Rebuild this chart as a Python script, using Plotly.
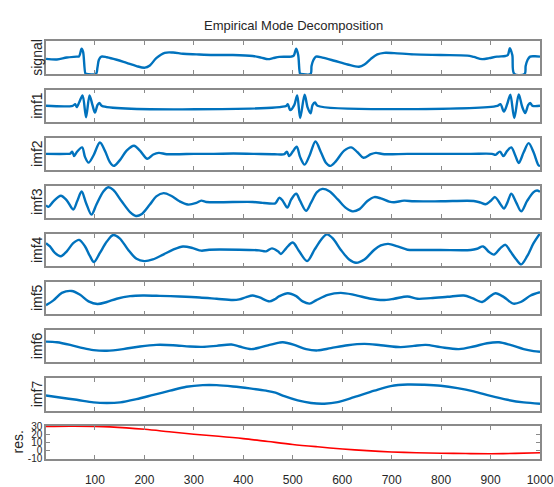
import plotly.graph_objects as go

# ---- decomposition data (sample index, amplitude) ----
signal_x = [1, 23, 43, 63, 68, 73, 76, 81, 83, 102, 105, 108, 113, 124, 144, 164, 184, 201, 211, 224,
            241, 258, 278, 305, 339, 379, 419, 436, 450, 460, 473, 497, 502, 507, 511, 515, 517, 536,
            538, 542, 547, 560, 584, 611, 634, 645, 658, 671, 685, 705, 745, 799, 853, 866, 883, 897,
            913, 930, 935, 939, 944, 948, 969, 971, 975, 980, 990, 1000]
signal_y = [48, 46, 52, 55, 56, 80, 70, 0, 0, 0, 20, 45, 55, 53, 45, 35, 25, 20, 27, 50,
            67, 68, 64, 62, 60, 60, 57, 52, 47, 50, 54, 55, 58, 80, 60, 0, 0, 0,
            25, 45, 55, 52, 42, 30, 23, 30, 48, 62, 67, 66, 62, 60, 58, 54, 47, 50,
            55, 57, 60, 82, 60, 0, 0, 25, 45, 55, 56, 55]

imf1_x = [1, 55, 60, 63, 68, 75, 82, 89, 95, 100, 105, 109, 114, 487, 490, 495, 503, 509, 515, 524,
          530, 536, 540, 545, 550, 914, 920, 927, 934, 940, 948, 957, 964, 970, 976, 980, 985, 1000]
imf1_y = [0, 0, 5, -4, 10, 32, -35, 32, 2, -21, 2, 9, 0, 0, 5, -13, 2, 32, -38, 34,
          -5, -23, 2, 10, 0, 0, 5, -18, 7, 34, -38, 35, -3, -22, 2, 9, 0, 0]

imf2_x = [1, 43, 50, 54, 58, 63, 74, 80, 87, 97, 110, 120, 130, 138, 150, 164, 179, 191, 206, 218,
          229, 245, 271, 300, 340, 380, 420, 463, 476, 483, 488, 493, 500, 508, 515, 524, 534, 546,
          557, 567, 576, 587, 604, 618, 631, 643, 658, 668, 685, 732, 800, 860, 903, 910, 919, 926,
          934, 942, 950, 957, 967, 977, 987, 997, 1000]
imf2_y = [0, 0, 1, 7, -7, 5, 20, -10, -27, -5, 35, 10, -25, -37, -20, 10, 25, 10, -15, -2,
          3, -1, -1, 0, 0, 1, 0, -1, -2, -1, 7, -7, 7, 22, -10, -33, -5, 38,
          5, -27, -37, -23, 10, 20, 5, -12, -1, 3, -1, 0, 0, 0, 0, -3, 7, -7,
          10, 20, -5, -28, 5, 33, 5, -35, -37]

imf3_x = [1, 6, 16, 31, 43, 56, 64, 73, 82, 93, 103, 117, 127, 137, 154, 171, 183, 194, 211, 224,
          239, 254, 271, 288, 305, 315, 325, 419, 439, 460, 465, 473, 480, 489, 497, 507, 515, 527,
          537, 549, 560, 574, 591, 608, 621, 635, 651, 665, 678, 695, 705, 725, 745, 800, 866, 880,
          890, 900, 909, 920, 927, 934, 942, 952, 962, 974, 987, 994, 1000]
imf3_y = [-10, -15, 2, 19, 5, -23, 2, 32, -3, -39, -8, 32, 45, 37, 2, -31, -43, -38, -8, 17,
          27, 19, 2, -8, -3, 4, 0, 0, -3, -5, -4, 13, 3, -17, 8, 25, 3, -27,
          -2, 30, 40, 33, 8, -19, -29, -22, 3, 15, 11, 1, -1, 4, 2, 2, 3, -2,
          -7, 3, 15, -7, -20, -2, 25, -2, -29, 3, 30, 35, 31]

imf4_x = [1, 9, 19, 31, 43, 56, 68, 80, 90, 98, 110, 124, 137, 150, 167, 184, 200, 217, 238, 258,
          278, 298, 315, 331, 392, 432, 446, 458, 470, 476, 487, 500, 513, 529, 544, 557, 569, 581,
          597, 614, 628, 645, 665, 678, 693, 712, 732, 752, 799, 860, 873, 885, 897, 907, 920, 930,
          940, 952, 962, 974, 987, 1000]
imf4_y = [21, 11, -9, -19, -4, 21, 31, 11, -19, -37, -9, 26, 46, 36, 1, -27, -34, -29, -14, 1,
          11, 6, -2, 1, 1, -1, -4, 5, -4, -12, 6, 23, -4, -34, 1, 31, 48, 36,
          1, -29, -39, -29, 1, 14, 19, 11, 1, 0, 0, 0, 4, 11, -6, -14, 6, 16,
          -4, -29, -44, -19, 21, 51]

imf5_x = [1, 16, 33, 53, 70, 87, 105, 124, 144, 171, 197, 231, 271, 312, 346, 379, 392, 406, 419, 433,
          453, 463, 473, 490, 507, 520, 534, 547, 571, 597, 624, 658, 682, 705, 732, 752, 779, 813,
          846, 863, 883, 897, 910, 927, 946, 961, 981, 1000]
imf5_y = [-22, -7, 16, 22, 10, -10, -18, -12, -2, 6, 8, 7, 5, 2, -2, -6, -4, 3, 8, 2,
          -10, -4, 6, 15, 6, -10, -17, -7, 10, 16, 10, -2, -6, -2, 5, -2, 0, 4,
          8, 0, -12, 3, 15, 3, -17, -12, 8, 18]

imf6_x = [1, 23, 50, 76, 97, 124, 157, 191, 224, 258, 292, 318, 346, 376, 392, 416, 436, 453, 473, 480,
          503, 527, 550, 577, 611, 645, 678, 718, 745, 769, 799, 836, 866, 893, 917, 940, 967, 987, 1000]
imf6_y = [14, 12, 4, -6, -12, -14, -9, -1, 4, 3, -1, -2, 1, 5, -1, -9, -3, 4, 11, 12,
          4, -9, -13, -6, 3, 7, 3, -3, 1, 4, -3, -9, -1, 9, 12, 4, -9, -15, -17]

imf7_x = [1, 29, 63, 97, 124, 151, 184, 218, 252, 285, 318, 346, 379, 413, 446, 465, 483, 510, 537, 564,
          591, 624, 665, 698, 732, 766, 799, 833, 866, 900, 934, 967, 1000]
imf7_y = [-4, -10, -17, -25, -27, -25, -15, -2, 11, 23, 28, 28, 24, 18, 11, 5, -6, -19, -27, -29,
          -24, -9, 11, 25, 30, 29, 26, 19, 9, -5, -17, -25, -29]

res_x = [1, 50, 100, 130, 201, 250, 300, 350, 400, 450, 500, 550, 601, 650, 700, 750, 800, 850, 901, 950, 1000]
res_y = [29.5, 29.8, 29.6, 29.0, 26.0, 23.0, 20.0, 17.5, 14.6, 11.0, 7.4, 4.5, 1.8, -0.2, -1.8, -2.8, -3.4, -3.8, -4.0, -3.6, -2.8]

panel_names = ["signal", "imf1", "imf2", "imf3", "imf4", "imf5", "imf6", "imf7", "res."]
x_ticks = [100, 200, 300, 400, 500, 600, 700, 800, 900, 1000]
res_ticks = [-10, 0, 10, 20, 30]
res_tick_labels = ["-10", "0", "10", "20", "30"]

series = [
    (signal_x, signal_y, [0, 103]),
    (imf1_x, imf1_y, [-50, 50]),
    (imf2_x, imf2_y, [-50, 50]),
    (imf3_x, imf3_y, [-50, 50]),
    (imf4_x, imf4_y, [-50, 50]),
    (imf5_x, imf5_y, [-50, 50]),
    (imf6_x, imf6_y, [-50, 50]),
    (imf7_x, imf7_y, [-50, 50]),
    (res_x, res_y, [-10, 30]),
]

W, H = 554, 487
LEFT, RIGHT = 46, 13
PANEL_TOP, PANEL_STEP, PANEL_H = 36.5, 49.5, 33.5
BLUE = "#0072BD"
FRAME = "#8a8a8a"
TEXT = "#262626"
FONT = "Liberation Sans, Arial, sans-serif"

fig = go.Figure()
layout = {}
annotations = []
n = len(series)
for i, (xs, ys, yr) in enumerate(series):
    k = "" if i == 0 else str(i + 1)
    last = i == n - 1
    fig.add_trace(go.Scatter(
        x=xs, y=ys, mode="lines",
        line=dict(color="#FF0000" if last else BLUE, width=1.6 if last else 2.4,
                  shape="spline", smoothing=0.9),
        xaxis="x" + k, yaxis="y" + k, showlegend=False, hoverinfo="skip",
    ))
    top = PANEL_TOP + i * PANEL_STEP
    bot = top + PANEL_H
    layout["xaxis" + k] = dict(
        domain=[0, 1], anchor="y" + k, range=[1, 1000], tickvals=x_ticks,
        ticks="inside", ticklen=4, tickcolor=FRAME, tickwidth=1,
        showline=True, linecolor=FRAME, linewidth=1.5, mirror="ticks",
        showgrid=False, zeroline=False, showticklabels=last,
        ticklabeloverflow="allow", ticklabelstandoff=9,
        tickfont=dict(family=FONT, size=12, color=TEXT),
    )
    layout["yaxis" + k] = dict(
        domain=[1 - bot / H, 1 - top / H], anchor="x" + k, range=yr,
        showline=True, linecolor=FRAME, linewidth=1.5,
        mirror="ticks" if last else True,
        ticks="inside" if last else "", ticklen=4, tickcolor=FRAME, tickwidth=1,
        tickvals=res_ticks if last else None,
        ticktext=res_tick_labels if last else None,
        showticklabels=last, showgrid=False, zeroline=False,
        ticklabeloverflow="allow",
        tickfont=dict(family=FONT, size=10, color=TEXT),
    )
    label_px = 18 if last else 37
    annotations.append(dict(
        text=panel_names[i], xref="paper", yref="paper",
        x=(label_px - LEFT) / (W - LEFT - RIGHT), y=1 - (top + bot) / 2 / H,
        xanchor="center", yanchor="middle", textangle=-90, showarrow=False,
        font=dict(family=FONT, size=14, color=TEXT),
    ))

annotations.append(dict(
    text="Empirical Mode Decomposition", xref="paper", yref="paper",
    x=0.5, y=1 - 20 / H, xanchor="center", yanchor="middle", showarrow=False,
    font=dict(family=FONT, size=13, color=TEXT),
))

fig.update_layout(
    width=W, height=H, margin=dict(l=LEFT, r=RIGHT, t=0, b=0),
    paper_bgcolor="white", plot_bgcolor="white",
    annotations=annotations, **layout,
)

fig.write_html("out.html", config={"displayModeBar": False})
